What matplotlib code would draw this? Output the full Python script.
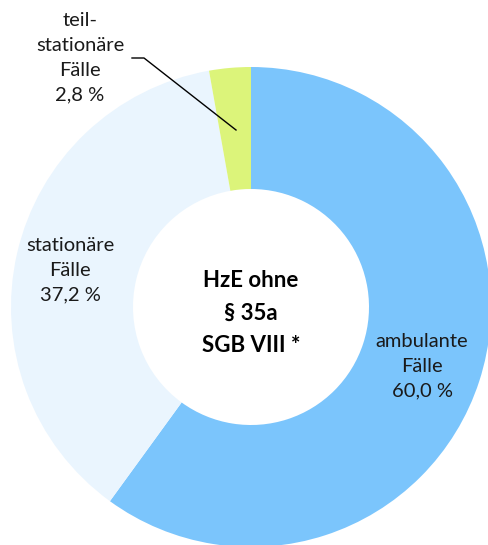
import matplotlib
matplotlib.use("Agg")
import matplotlib.pyplot as plt

plt.rcParams['font.family'] = ['Lato', 'DejaVu Sans']

# Anteile der Fälle nach Hilfeart
categories = ["ambulante\nFälle", "stationäre\nFälle", "teil-\nstationäre\nFälle"]
shares = [60.0, 37.2, 2.8]
colors = ["#7BC5FC", "#EAF5FE", "#DCF47A"]
center_title = "HzE ohne\n§ 35a\nSGB VIII *"


def fmt(v):
    return f"{v:.1f}".replace(".", ",") + " %"


fig = plt.figure(figsize=(4.88, 5.45), dpi=100)
ax = fig.add_axes([0, 0, 1, 1])

ax.pie(shares, colors=colors, radius=240, startangle=90, counterclock=False,
       wedgeprops=dict(width=122, edgecolor="none"), frame=True)
ax.set_xlim(-251, 237)
ax.set_ylim(-238, 307)
ax.set_aspect("equal")
ax.axis("off")

label_pos = [(171, -59), (-181, 37), (-171, 249)]
for cat, val, (x, y) in zip(categories, shares, label_pos):
    ax.text(x, y, f"{cat}\n{fmt(val)}", ha="center", va="center",
            fontsize=14.5, color="#1a1a1a", linespacing=1.55)

# Führungslinie für das kleine Segment
ax.plot([-119, -107, -15], [249, 249, 177], color="black", lw=1)

ax.text(0, -6, center_title, ha="center", va="center", fontsize=16,
        fontweight="bold", color="black", linespacing=1.7)

fig.savefig("out.png", dpi=100)
